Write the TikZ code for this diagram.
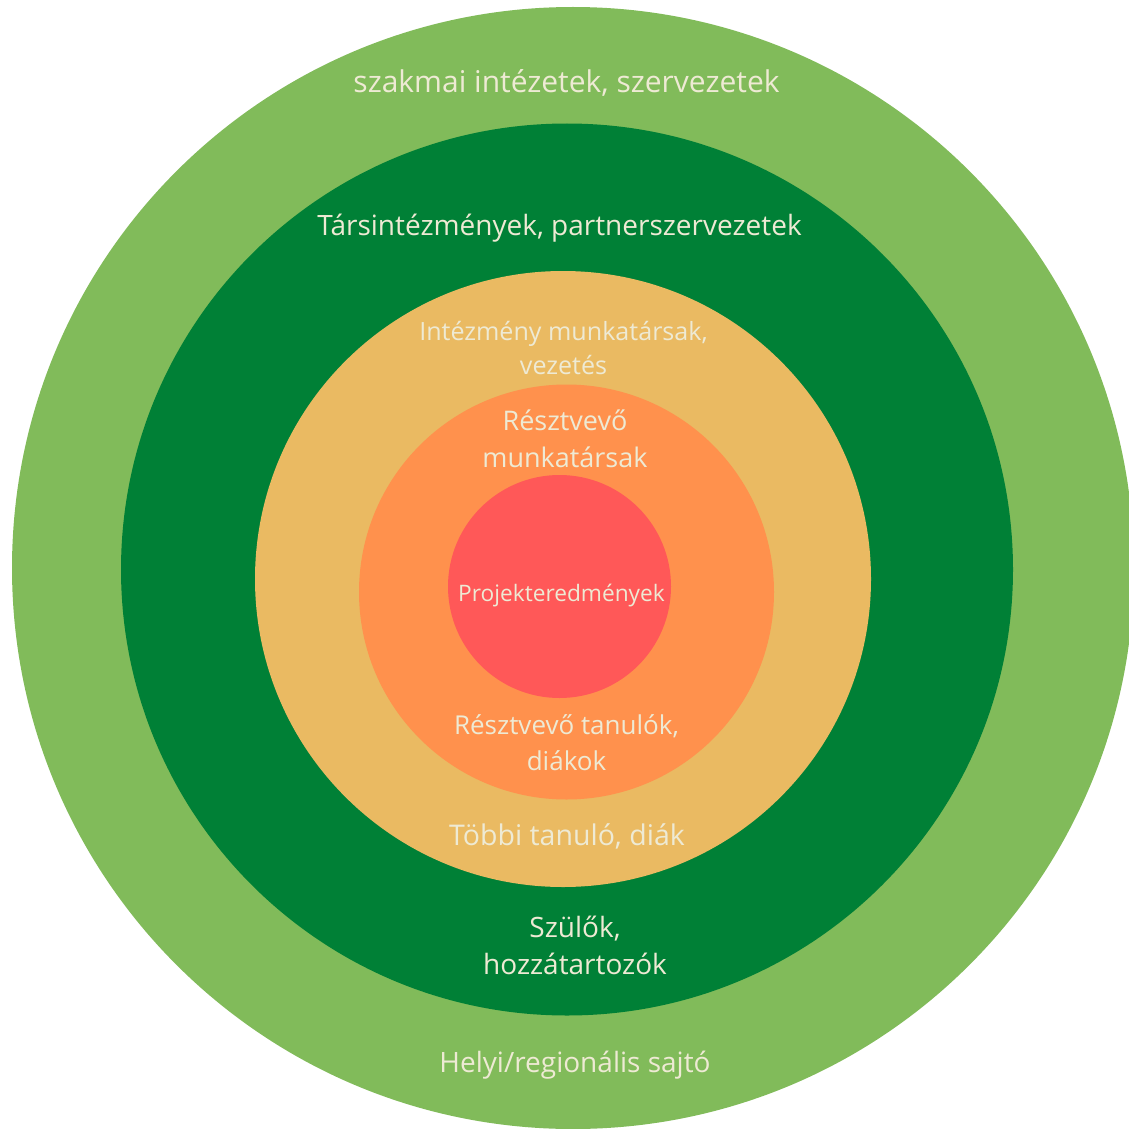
\documentclass[tikz,border=0pt]{standalone}
\usepackage{fontspec}
\setmainfont{Open Sans}
\definecolor{ringA}{RGB}{129,187,90}
\definecolor{ringB}{RGB}{0,128,54}
\definecolor{ringC}{RGB}{234,186,98}
\definecolor{ringD}{RGB}{255,145,77}
\definecolor{ringE}{RGB}{255,88,88}
\definecolor{labeltext}{RGB}{238,234,212}
\tikzset{
  ring/.style={circle, inner sep=0pt, draw=none},
  lbl/.style={text=labeltext, align=center, anchor=base, inner sep=0pt},
  fs/.style 2 args={font=\fontsize{#1}{#2}\selectfont}
}
\begin{document}
\begin{tikzpicture}[x=1pt,y=-1pt]
\useasboundingbox (0,0) rectangle (1129,1129);
\clip (0,0) rectangle (1129,1129);
\node[ring, fill=ringA, minimum size=1122pt] (outer) at (573,568) {};
\node[ring, fill=ringB, minimum size=892pt] (partner) at (567,569.5) {};
\node[ring, fill=ringC, minimum size=616pt] (inst) at (563,579) {};
\node[ring, fill=ringD, minimum size=415pt] (part) at (566.5,592) {};
\node[ring, fill=ringE, minimum size=223pt] (core) at (559.5,586.5) {};
\node[lbl, fs={30}{37}] (t1) at (566.5,93) {szakmai intézetek, szervezetek};
\node[lbl, fs={28}{37}] (t2) at (559.5,235) {Társintézmények, partnerszervezetek};
\node[lbl, fs={25.1}{34}] (t3) at (563.5,374) {Intézmény munkatársak,\\vezetés};
\node[lbl, fs={27}{37}] (t4) at (565,467) {Résztvevő\\munkatársak};
\node[lbl, fs={22.7}{30}] (t5) at (561.5,601) {Projekteredmények};
\node[lbl, fs={26}{36}] (t6) at (566.5,770) {Résztvevő tanulók,\\diákok};
\node[lbl, fs={28.5}{36}] (t7) at (567,845) {Többi tanuló, diák};
\node[lbl, fs={28}{37}] (t8) at (575,974) {Szülők,\\hozzátartozók};
\node[lbl, fs={28}{37}] (t9) at (575,1072) {Helyi/regionális sajtó};
\end{tikzpicture}
\end{document}
